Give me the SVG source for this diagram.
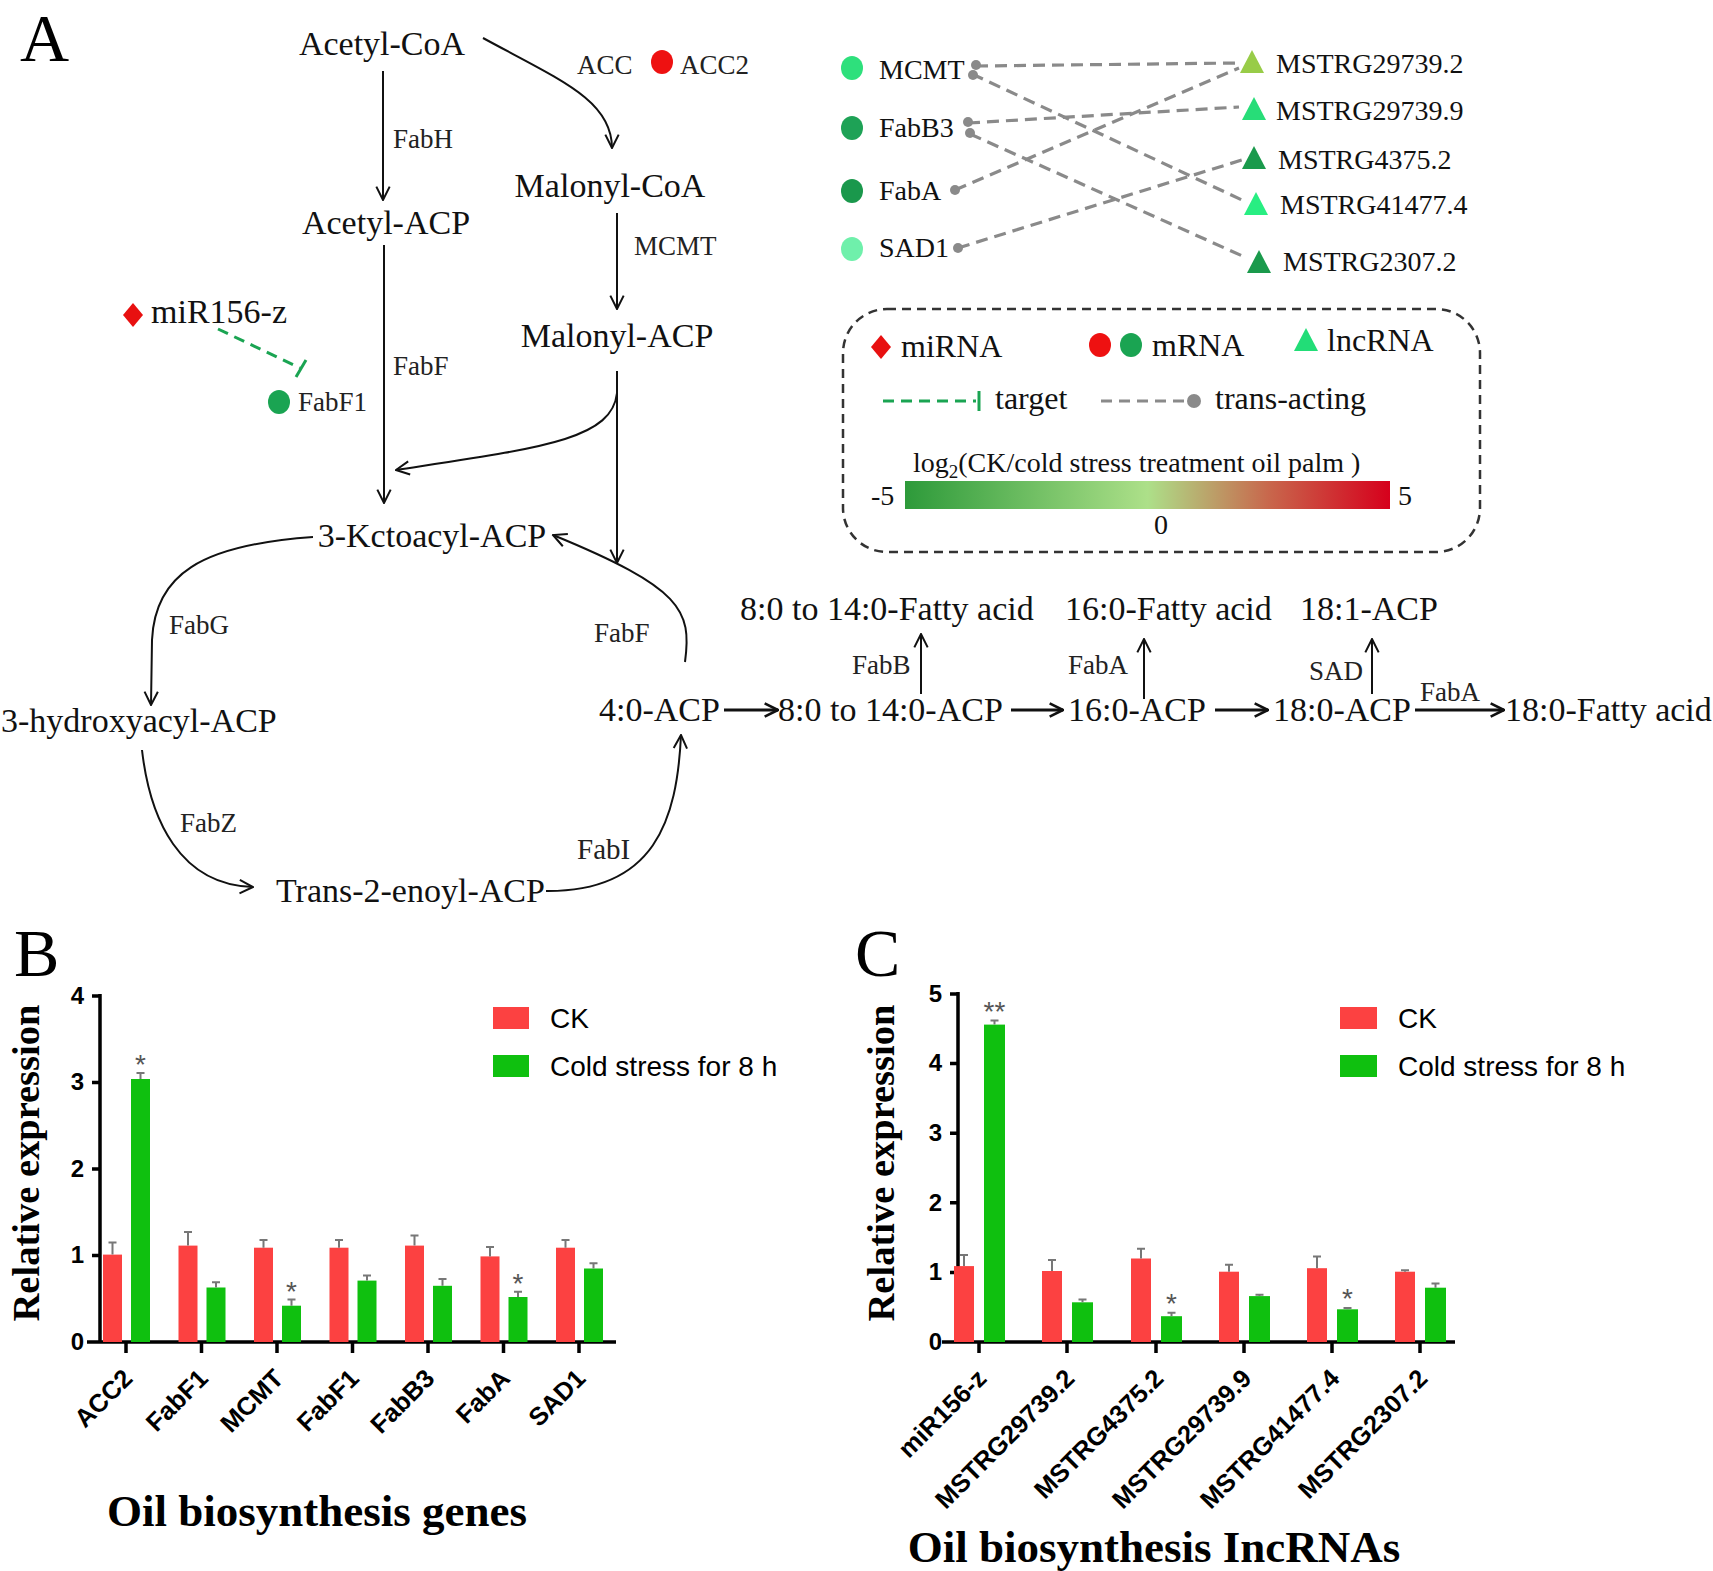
<svg xmlns="http://www.w3.org/2000/svg" width="1713" height="1571" viewBox="0 0 1713 1571">
<style>
.big{font-family:"Liberation Serif","Times New Roman",serif;font-size:34px;fill:#111}
.sm{font-family:"Liberation Serif","Times New Roman",serif;font-size:27px;fill:#222}
.net{font-family:"Liberation Serif","Times New Roman",serif;font-size:28px;fill:#111}
.leg{font-family:"Liberation Serif","Times New Roman",serif;font-size:32px;fill:#111}
.panel{font-family:"Liberation Serif","Times New Roman",serif;font-size:68px;fill:#000}
.ln{fill:none;stroke:#111;stroke-width:2}
.lnb{fill:none;stroke:#111;stroke-width:3}
.gd{fill:none;stroke:#8a8a8a;stroke-width:3.2;stroke-dasharray:12 7}
.gdot{fill:#8a8a8a}
.ax{fill:none;stroke:#000;stroke-width:3.5}
.tk{font-family:"Liberation Sans",Arial,sans-serif;font-weight:bold;font-size:24px;fill:#000}
.xl{font-family:"Liberation Sans",Arial,sans-serif;font-weight:bold;font-size:25.5px;fill:#000}
.lg{font-family:"Liberation Sans",Arial,sans-serif;font-size:28px;fill:#000}
.yl{font-family:"Liberation Serif","Times New Roman",serif;font-weight:bold;font-size:38.5px;fill:#000}
.tt{font-family:"Liberation Serif","Times New Roman",serif;font-weight:bold;font-size:45px;fill:#000}
.r{fill:#fc4141}
.g{fill:#0fc00f}
.er{fill:none;stroke:#777;stroke-width:2}
.st{font-family:"Liberation Sans",Arial,sans-serif;font-size:28px;fill:#555}
</style>
<defs>
<marker id="arr" viewBox="0 0 12 12" refX="11" refY="6" markerWidth="16" markerHeight="16" markerUnits="userSpaceOnUse" orient="auto">
<path d="M1,1 L11,6 L1,11" fill="none" stroke="#111" stroke-width="1.5"/>
</marker>
<marker id="arrb" viewBox="0 0 12 12" refX="11" refY="6" markerWidth="16" markerHeight="16" markerUnits="userSpaceOnUse" orient="auto">
<path d="M1,1 L11,6 L1,11" fill="none" stroke="#111" stroke-width="2"/>
</marker>
<linearGradient id="grad" x1="0" y1="0" x2="1" y2="0">
<stop offset="0" stop-color="#2d9a3a"/>
<stop offset="0.5" stop-color="#ade089"/>
<stop offset="0.75" stop-color="#c8674c"/>
<stop offset="1" stop-color="#d6001c"/>
</linearGradient>
</defs>
<rect width="1713" height="1571" fill="#fff"/>

<!-- Panel A -->
<text class="panel" x="20" y="61">A</text>

<g id="nodes-pathway">
<g id="acetyl-coa"><text class="big" x="382" y="55" text-anchor="middle">Acetyl-CoA</text></g>
<g id="acetyl-acp"><text class="big" x="386" y="234" text-anchor="middle">Acetyl-ACP</text></g>
<g id="malonyl-coa"><text class="big" x="610" y="197" text-anchor="middle">Malonyl-CoA</text></g>
<g id="malonyl-acp"><text class="big" x="617" y="347" text-anchor="middle">Malonyl-ACP</text></g>
<g id="ketoacyl"><text class="big" x="432" y="547" text-anchor="middle">3-Kctoacyl-ACP</text></g>
<g id="hydroxyacyl"><text class="big" x="1" y="732">3-hydroxyacyl-ACP</text></g>
<g id="trans"><text class="big" x="276" y="902">Trans-2-enoyl-ACP</text></g>
<g id="c4"><text class="big" x="599" y="721">4:0-ACP</text></g>
<g id="c8-14"><text class="big" x="778" y="721">8:0 to 14:0-ACP</text></g>
<g id="c16"><text class="big" x="1068" y="721">16:0-ACP</text></g>
<g id="c18"><text class="big" x="1273" y="721">18:0-ACP</text></g>
<g id="c18fa"><text class="big" x="1505" y="721">18:0-Fatty acid</text></g>
<g id="c8-14fa"><text class="big" x="740" y="620">8:0 to 14:0-Fatty acid</text></g>
<g id="c16fa"><text class="big" x="1065" y="620">16:0-Fatty acid</text></g>
<g id="c181"><text class="big" x="1300" y="620">18:1-ACP</text></g>
<g id="mir156"><path d="M133,303 L143,315 L133,327 L123,315 Z" fill="#e81010"/><text class="big" x="151" y="323">miR156-z</text></g>
<g id="fabf1"><ellipse cx="279" cy="402" rx="11" ry="12" fill="#1aa452"/><text class="sm" x="298" y="411">FabF1</text></g>
<g id="acc2"><ellipse cx="662" cy="62" rx="11" ry="12" fill="#ee1111"/><text class="sm" x="680" y="74">ACC2</text></g>
</g>

<g id="enzyme-labels">
<text class="sm" x="393" y="148">FabH</text>
<text class="sm" x="393" y="375">FabF</text>
<text class="sm" x="577" y="74">ACC</text>
<text class="sm" x="634" y="255">MCMT</text>
<text class="sm" x="169" y="634">FabG</text>
<text class="sm" x="180" y="832">FabZ</text>
<text class="sm" x="577" y="859" style="font-size:29px">FabI</text>
<text class="sm" x="594" y="642">FabF</text>
<text class="sm" x="852" y="674">FabB</text>
<text class="sm" x="1068" y="674">FabA</text>
<text class="sm" x="1309" y="680">SAD</text>
<text class="sm" x="1420" y="701">FabA</text>
</g>

<g id="connectors">
<path class="ln" d="M383,71 L383,200" marker-end="url(#arr)"/>
<path class="ln" d="M384,245 L384,503" marker-end="url(#arr)"/>
<path class="ln" d="M617,213 L617,309" marker-end="url(#arr)"/>
<path class="ln" d="M617,371 L617,563" marker-end="url(#arr)"/>
<path class="ln" d="M617,393 C612,440 540,448 396,470" marker-end="url(#arr)"/>
<path class="ln" d="M483,38 C560,80 612,100 612,148" marker-end="url(#arr)"/>
<path class="ln" d="M313,537 C200,545 155,575 152,640 L151,705" marker-end="url(#arr)"/>
<path class="ln" d="M142,750 C150,820 180,885 253,887" marker-end="url(#arr)"/>
<path class="ln" d="M546,891 C655,892 677,820 681,735" marker-end="url(#arr)"/>
<path class="ln" d="M685,662 C692,610 682,588 553,535" marker-end="url(#arr)"/>
<path class="lnb" d="M724,710 L778,710" marker-end="url(#arrb)"/>
<path class="lnb" d="M1011,710 L1063,710" marker-end="url(#arrb)"/>
<path class="lnb" d="M1215,710 L1268,710" marker-end="url(#arrb)"/>
<path class="lnb" d="M1415,710 L1504,710" marker-end="url(#arrb)"/>
<path class="ln" d="M921,694 L921,634" marker-end="url(#arr)"/>
<path class="ln" d="M1144,699 L1144,639" marker-end="url(#arr)"/>
<path class="ln" d="M1372,694 L1372,639" marker-end="url(#arr)"/>
<path d="M218,329 L300,368" fill="none" stroke="#1aa452" stroke-width="3" stroke-dasharray="11 7"/>
<path d="M296,377 L306,360" fill="none" stroke="#1aa452" stroke-width="3"/>
<!-- trans-acting network -->
<path class="gd" d="M976,66 L1238,63"/>
<path class="gd" d="M972,74 L1242,200"/>
<path class="gd" d="M968,123 L1239,107"/>
<path class="gd" d="M970,134 L1247,258"/>
<path class="gd" d="M955,190 L1239,68"/>
<path class="gd" d="M958,248 L1242,160"/>
<circle class="gdot" cx="976" cy="65" r="5"/>
<circle class="gdot" cx="973" cy="75" r="5"/>
<circle class="gdot" cx="968" cy="122" r="5"/>
<circle class="gdot" cx="970" cy="133" r="5"/>
<circle class="gdot" cx="955" cy="190" r="5"/>
<circle class="gdot" cx="958" cy="248" r="5"/>
</g>

<g id="network-nodes">
<g id="n-mcmt"><ellipse cx="852" cy="68" rx="11" ry="12" fill="#2ee07c"/><text class="net" x="879" y="79">MCMT</text></g>
<g id="n-fabb3"><ellipse cx="852" cy="128" rx="11" ry="12" fill="#1ea256"/><text class="net" x="879" y="137">FabB3</text></g>
<g id="n-faba"><ellipse cx="852" cy="191" rx="11" ry="12" fill="#1a984c"/><text class="net" x="879" y="200">FabA</text></g>
<g id="n-sad1"><ellipse cx="852" cy="249" rx="11" ry="12" fill="#6ff0ab"/><text class="net" x="879" y="257">SAD1</text></g>
<g id="n-m297392"><path d="M1252,50 L1264,73 L1240,73 Z" fill="#98cc48"/><text class="net" x="1276" y="73">MSTRG29739.2</text></g>
<g id="n-m297399"><path d="M1254,97 L1266,120 L1242,120 Z" fill="#27dd78"/><text class="net" x="1276" y="120">MSTRG29739.9</text></g>
<g id="n-m43752"><path d="M1254,146 L1266,169 L1242,169 Z" fill="#1a9a4c"/><text class="net" x="1278" y="169">MSTRG4375.2</text></g>
<g id="n-m414774"><path d="M1256,192 L1268,215 L1244,215 Z" fill="#28ee82"/><text class="net" x="1280" y="214">MSTRG41477.4</text></g>
<g id="n-m23072"><path d="M1259,250 L1271,273 L1247,273 Z" fill="#1a9a4c"/><text class="net" x="1283" y="271">MSTRG2307.2</text></g>
</g>

<g id="legend">
<rect x="843" y="309" width="637" height="243" rx="44" fill="none" stroke="#333" stroke-width="2.5" stroke-dasharray="9 6"/>
<path d="M881,335 L891,347 L881,359 L871,347 Z" fill="#e81010"/>
<text class="leg" x="901" y="357">miRNA</text>
<ellipse cx="1100" cy="345" rx="11" ry="12" fill="#ee1111"/>
<ellipse cx="1131" cy="345" rx="11" ry="12" fill="#1aa452"/>
<text class="leg" x="1152" y="356">mRNA</text>
<path d="M1306,328 L1318,351 L1294,351 Z" fill="#22dd77"/>
<text class="leg" x="1327" y="351">lncRNA</text>
<path d="M883,401 L976,401" fill="none" stroke="#1aa452" stroke-width="3" stroke-dasharray="11 7"/>
<path d="M979,391 L979,411" fill="none" stroke="#1aa452" stroke-width="3"/>
<text class="leg" x="995" y="409">target</text>
<path d="M1101,401 L1190,401" fill="none" stroke="#8a8a8a" stroke-width="3" stroke-dasharray="11 7"/>
<circle cx="1194" cy="401" r="7" fill="#8a8a8a"/>
<text class="leg" x="1215" y="409">trans-acting</text>
<text class="net" x="913" y="472">log<tspan dy="6" font-size="19">2</tspan><tspan dy="-6">(CK/cold stress treatment oil palm )</tspan></text>
<rect x="905" y="481" width="485" height="28" fill="url(#grad)"/>
<text class="net" x="871" y="505">-5</text>
<text class="net" x="1398" y="505">5</text>
<text class="net" x="1161" y="534" text-anchor="middle">0</text>
</g>

<!-- Panel B -->
<g id="panel-b">
<text class="panel" x="14" y="976">B</text>
<text class="yl" transform="translate(39,1163) rotate(-90)" text-anchor="middle">Relative expression</text>
<path class="ax" d="M100,994 L100,1342 M87,1342 L616,1342"/>
<path class="ax" d="M92,996 L100,996 M92,1082.5 L100,1082.5 M92,1169 L100,1169 M92,1255.5 L100,1255.5"/>
<path class="ax" d="M126,1342 L126,1353 M201.5,1342 L201.5,1353 M277,1342 L277,1353 M352.5,1342 L352.5,1353 M428,1342 L428,1353 M503.5,1342 L503.5,1353 M579,1342 L579,1353"/>
<g class="tk" text-anchor="end">
<text x="84" y="1004">4</text>
<text x="84" y="1090">3</text>
<text x="84" y="1177">2</text>
<text x="84" y="1263">1</text>
<text x="84" y="1350">0</text>
</g>
<rect class="r" x="103" y="1254.6" width="19" height="87.4"/>
<rect class="g" x="131" y="1079" width="19" height="263"/>
<rect class="r" x="178.5" y="1245.6" width="19" height="96.4"/>
<rect class="g" x="206.5" y="1287.5" width="19" height="54.5"/>
<rect class="r" x="254" y="1247.7" width="19" height="94.3"/>
<rect class="g" x="282" y="1305.7" width="19" height="36.3"/>
<rect class="r" x="329.5" y="1247.7" width="19" height="94.3"/>
<rect class="g" x="357.5" y="1280.6" width="19" height="61.4"/>
<rect class="r" x="405" y="1245.6" width="19" height="96.4"/>
<rect class="g" x="433" y="1285.8" width="19" height="56.2"/>
<rect class="r" x="480.5" y="1256.4" width="19" height="85.6"/>
<rect class="g" x="508.5" y="1297" width="19" height="45"/>
<rect class="r" x="556" y="1247.7" width="19" height="94.3"/>
<rect class="g" x="584" y="1268.5" width="19" height="73.5"/>
<path class="er" d="M112.5,1254.6 V1242.5 M108.5,1242.5 H116.5 M140.5,1079 V1073 M136.5,1073 H144.5 M188,1245.6 V1232.1 M184,1232.1 H192 M216,1287.5 V1282.3 M212,1282.3 H220 M263.5,1247.7 V1239.9 M259.5,1239.9 H267.5 M291.5,1305.7 V1299.6 M287.5,1299.6 H295.5 M339,1247.7 V1239.9 M335,1239.9 H343 M367,1280.6 V1275.4 M363,1275.4 H371 M414.5,1245.6 V1235.6 M410.5,1235.6 H418.5 M442.5,1285.8 V1278.9 M438.5,1278.9 H446.5 M490,1256.4 V1246.9 M486,1246.9 H494 M518,1297 V1291.8 M514,1291.8 H522 M565.5,1247.7 V1239.9 M561.5,1239.9 H569.5 M593.5,1268.5 V1263.3 M589.5,1263.3 H597.5"/>
<text class="st" x="140.5" y="1074" text-anchor="middle">*</text>
<text class="st" x="291.5" y="1301" text-anchor="middle">*</text>
<text class="st" x="518" y="1293" text-anchor="middle">*</text>
<g class="xl" text-anchor="end">
<text transform="translate(134,1380) rotate(-45)">ACC2</text>
<text transform="translate(209.5,1380) rotate(-45)">FabF1</text>
<text transform="translate(285,1380) rotate(-45)">MCMT</text>
<text transform="translate(360.5,1380) rotate(-45)">FabF1</text>
<text transform="translate(436,1380) rotate(-45)">FabB3</text>
<text transform="translate(511.5,1380) rotate(-45)">FabA</text>
<text transform="translate(587,1380) rotate(-45)">SAD1</text>
</g>
<rect class="r" x="493" y="1007" width="36" height="22"/>
<text class="lg" x="550" y="1028">CK</text>
<rect class="g" x="493" y="1055" width="36" height="22"/>
<text class="lg" x="550" y="1076">Cold stress for 8 h</text>
<text class="tt" x="317" y="1526" text-anchor="middle">Oil biosynthesis genes</text>
</g>

<!-- Panel C -->
<g id="panel-c">
<text class="panel" x="855" y="976">C</text>
<text class="yl" transform="translate(894,1163) rotate(-90)" text-anchor="middle">Relative expression</text>
<path class="ax" d="M958,992 L958,1342 M942,1342 L1455,1342"/>
<path class="ax" d="M950,994 L958,994 M950,1063.6 L958,1063.6 M950,1133.2 L958,1133.2 M950,1202.8 L958,1202.8 M950,1272.4 L958,1272.4"/>
<path class="ax" d="M979,1342 L979,1353 M1067,1342 L1067,1353 M1156,1342 L1156,1353 M1244,1342 L1244,1353 M1332,1342 L1332,1353 M1420,1342 L1420,1353"/>
<g class="tk" text-anchor="end">
<text x="942" y="1002">5</text>
<text x="942" y="1071">4</text>
<text x="942" y="1141">3</text>
<text x="942" y="1211">2</text>
<text x="942" y="1280">1</text>
<text x="942" y="1350">0</text>
</g>
<rect class="r" x="954" y="1266.1" width="20" height="75.9"/>
<rect class="g" x="984" y="1024.6" width="21" height="317.4"/>
<rect class="r" x="1042" y="1271" width="20" height="71"/>
<rect class="g" x="1072" y="1302.3" width="21" height="39.7"/>
<rect class="r" x="1131" y="1258.5" width="20" height="83.5"/>
<rect class="g" x="1161" y="1316.2" width="21" height="25.8"/>
<rect class="r" x="1219" y="1271.7" width="20" height="70.3"/>
<rect class="g" x="1249" y="1296.1" width="21" height="45.9"/>
<rect class="r" x="1307" y="1268.2" width="20" height="73.8"/>
<rect class="g" x="1337" y="1309.3" width="21" height="32.7"/>
<rect class="r" x="1395" y="1271.7" width="20" height="70.3"/>
<rect class="g" x="1425" y="1287.7" width="21" height="54.3"/>
<path class="er" d="M964,1266.1 V1255 M960,1255 H968 M994.5,1024.6 V1020.4 M990.5,1020.4 H998.5 M1052,1271 V1259.9 M1048,1259.9 H1056 M1082.5,1302.3 V1299.5 M1078.5,1299.5 H1086.5 M1141,1258.5 V1248.7 M1137,1248.7 H1145 M1171.5,1316.2 V1312.8 M1167.5,1312.8 H1175.5 M1229,1271.7 V1264.7 M1225,1264.7 H1233 M1259.5,1296.1 V1294.7 M1255.5,1294.7 H1263.5 M1317,1268.2 V1256.4 M1313,1256.4 H1321 M1347.5,1309.3 V1307.9 M1343.5,1307.9 H1351.5 M1405,1271.7 V1270.3 M1401,1270.3 H1409 M1435.5,1287.7 V1283.5 M1431.5,1283.5 H1439.5"/>
<text class="st" x="994.5" y="1021" text-anchor="middle">**</text>
<text class="st" x="1171.5" y="1313" text-anchor="middle">*</text>
<text class="st" x="1347.5" y="1308" text-anchor="middle">*</text>
<g class="xl" text-anchor="end">
<text transform="translate(988,1380) rotate(-45)">miR156-z</text>
<text transform="translate(1076,1380) rotate(-45)">MSTRG29739.2</text>
<text transform="translate(1165,1380) rotate(-45)">MSTRG4375.2</text>
<text transform="translate(1253,1380) rotate(-45)">MSTRG29739.9</text>
<text transform="translate(1341,1380) rotate(-45)">MSTRG41477.4</text>
<text transform="translate(1429,1380) rotate(-45)">MSTRG2307.2</text>
</g>
<rect class="r" x="1340" y="1007" width="37" height="22"/>
<text class="lg" x="1398" y="1028">CK</text>
<rect class="g" x="1340" y="1055" width="37" height="22"/>
<text class="lg" x="1398" y="1076">Cold stress for 8 h</text>
<text class="tt" x="1154" y="1562" text-anchor="middle">Oil biosynthesis IncRNAs</text>
</g>
</svg>
